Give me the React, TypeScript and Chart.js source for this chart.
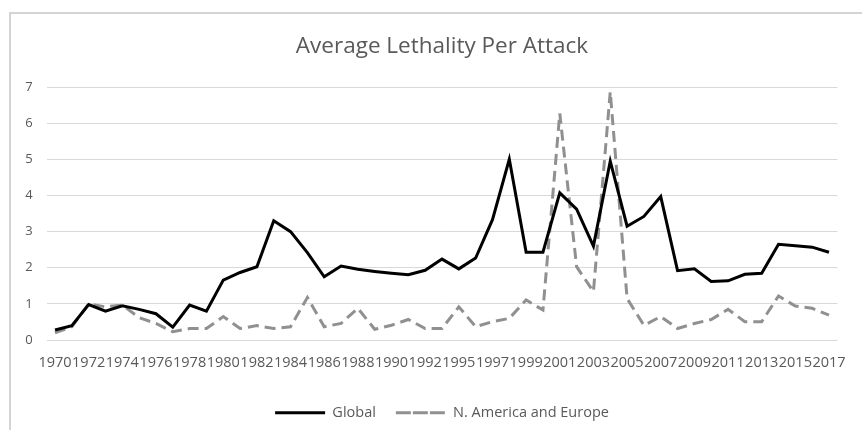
import React, { useEffect, useRef } from "react";
import { Chart, registerables } from "chart.js";

Chart.register(...registerables);

const years = [
  "1970", "1971", "1972", "1973", "1974", "1975", "1976", "1977", "1978", "1979",
  "1980", "1981", "1982", "1983", "1984", "1985", "1986", "1987", "1988", "1989",
  "1990", "1991", "1992", "1994", "1995", "1996", "1997", "1998", "1999", "2000",
  "2001", "2002", "2003", "2004", "2005", "2006", "2007", "2008", "2009", "2010",
  "2011", "2012", "2013", "2014", "2015", "2016", "2017",
];

const globalValues = [
  0.28, 0.40, 0.98, 0.80, 0.95, 0.85, 0.73, 0.36, 0.97, 0.80,
  1.66, 1.87, 2.03, 3.30, 3.00, 2.42, 1.75, 2.05, 1.96, 1.90,
  1.85, 1.81, 1.93, 2.24, 1.97, 2.27, 3.33, 5.00, 2.43, 2.43,
  4.07, 3.62, 2.60, 4.95, 3.15, 3.42, 3.97, 1.92, 1.97, 1.62,
  1.64, 1.82, 1.85, 2.65, 2.61, 2.57, 2.43,
];

const naEuropeValues = [
  0.20, 0.37, 1.00, 0.92, 0.97, 0.62, 0.46, 0.23, 0.32, 0.32,
  0.65, 0.32, 0.40, 0.32, 0.37, 1.18, 0.37, 0.46, 0.88, 0.30,
  0.41, 0.57, 0.32, 0.32, 0.92, 0.37, 0.51, 0.60, 1.11, 0.83,
  6.27, 2.03, 1.34, 6.87, 1.15, 0.41, 0.65, 0.32, 0.46, 0.57,
  0.85, 0.51, 0.51, 1.22, 0.94, 0.88, 0.69,
];

const seriesNames = ["Global", "N. America and Europe"];
const titleText = "Average Lethality Per Attack";

const FONT = "'Open Sans', 'Noto Sans', sans-serif";
const TEXT_COLOR = "#595959";
const GRID_COLOR = "#d9d9d9";

export default function App() {
  const canvasRef = useRef<HTMLCanvasElement | null>(null);

  useEffect(() => {
    if (!canvasRef.current) return;
    const chart = new Chart(canvasRef.current, {
      type: "line",
      data: {
        labels: years,
        datasets: [
          {
            label: seriesNames[0],
            data: globalValues,
            borderColor: "#000000",
            backgroundColor: "#000000",
            borderWidth: 3,
            pointRadius: 0,
            tension: 0,
          },
          {
            label: seriesNames[1],
            data: naEuropeValues,
            borderColor: "#909090",
            backgroundColor: "#909090",
            borderWidth: 3,
            borderDash: [11, 6],
            pointRadius: 0,
            tension: 0,
          },
        ],
      },
      options: {
        responsive: false,
        animation: false,
        layout: { padding: { left: 0, right: 24.6, top: 0, bottom: 0 } },
        scales: {
          x: {
            offset: true,
            grid: { display: false, drawTicks: false },
            border: { display: false },
            ticks: {
              autoSkip: false,
              maxRotation: 0,
              minRotation: 0,
              padding: 14,
              color: TEXT_COLOR,
              font: { family: FONT, size: 14.5 },
              callback: (_v: any, i: number) => (i % 2 === 0 ? years[i] : ""),
            },
          },
          y: {
            min: 0,
            max: 7,
            afterFit: (scale: any) => {
              scale.width = 46.6;
            },
            grid: { color: GRID_COLOR, lineWidth: 1, drawTicks: false },
            border: { display: false },
            ticks: {
              stepSize: 1,
              padding: 14,
              color: TEXT_COLOR,
              font: { family: FONT, size: 13 },
            },
          },
        },
        plugins: {
          title: {
            display: true,
            text: titleText,
            fullSize: false,
            color: TEXT_COLOR,
            font: { family: FONT, size: 22.5, weight: "normal" },
            padding: { top: 33.5, bottom: 26.5 },
          },
          legend: {
            display: true,
            position: "bottom",
            fullSize: false,
            labels: {
              boxWidth: 50,
              boxHeight: 0,
              padding: 20,
              color: TEXT_COLOR,
              font: { family: FONT, size: 14.5 },
            },
          },
          tooltip: { enabled: false },
        },
      },
    });
    return () => chart.destroy();
  }, []);

  return (
    <div style={{ position: "absolute", left: 0, top: 0, width: 862, height: 430, overflow: "hidden", background: "#fff" }}>
      <div
        style={{
          position: "absolute",
          left: 9,
          top: 12,
          width: 900,
          height: 500,
          borderLeft: "2px solid #d4d4d4",
          borderTop: "2px solid #d4d4d4",
        }}
      />
      <canvas ref={canvasRef} width={862} height={430} style={{ position: "absolute", left: 0, top: 0 }} />
    </div>
  );
}
